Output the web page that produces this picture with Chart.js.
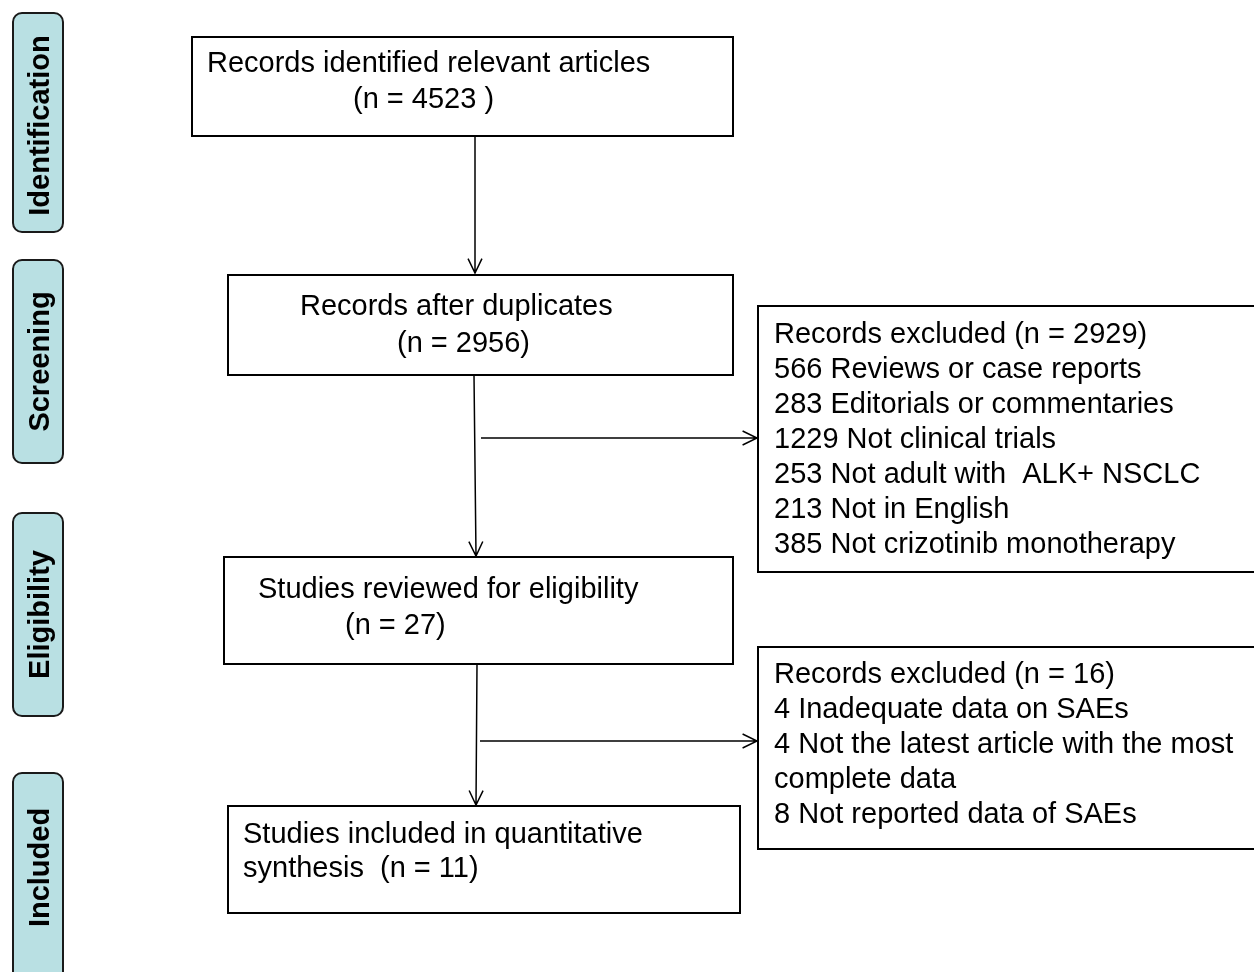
<!DOCTYPE html>
<html>
<head>
<meta charset="utf-8">
<title>PRISMA flow</title>
<script src="https://cdn.jsdelivr.net/npm/chart.js@4.4.1/dist/chart.umd.min.js"></script>
<style>
  html, body { margin: 0; padding: 0; background: #fff; }
  canvas { display: block; }
</style>
</head>
<body>
<canvas id="flow" width="1254" height="972"></canvas>
<script>
// Flow data
var stages = ['Identification', 'Screening', 'Eligibility', 'Included'];
var mainSteps = ['Records identified relevant articles', 'Records after duplicates', 'Studies reviewed for eligibility', 'Studies included in quantitative'];
var mainCounts = [4523, 2956, 27, 11];
var screenTotal = 2929;
var screenCounts = [566, 283, 1229, 253, 213, 385];
var screenReasons = ['Reviews or case reports', 'Editorials or commentaries', 'Not clinical trials', 'Not adult with  ALK+ NSCLC', 'Not in English', 'Not crizotinib monotherapy'];
var eligTotal = 16;
var eligCounts = [4, 4, 8];
var eligReasons = ['Inadequate data on SAEs', 'Not the latest article with the most', 'Not reported data of SAEs'];

// text lines per box
var box1Lines = [mainSteps[0], '(n = ' + mainCounts[0] + ' )'];
var box2Lines = [mainSteps[1], '(n = ' + mainCounts[1] + ')'];
var box3Lines = [mainSteps[2], '(n = ' + mainCounts[2] + ')'];
var box4Lines = [mainSteps[3], 'synthesis  (n = ' + mainCounts[3] + ')'];
var excl1Lines = ['Records excluded (n = ' + screenTotal + ')'];
screenCounts.forEach(function (c, i) { excl1Lines.push(c + ' ' + screenReasons[i]); });
var excl2Lines = ['Records excluded (n = ' + eligTotal + ')',
  eligCounts[0] + ' ' + eligReasons[0],
  eligCounts[1] + ' ' + eligReasons[1],
  'complete data',
  eligCounts[2] + ' ' + eligReasons[2]];

// layout (in scale units = page pixels)
var stageBoxes = [[13, 13, 63, 232], [13, 260, 63, 463], [13, 513, 63, 716], [13, 773, 63, 985]];
var stageShift = [3, 0, 0, -5];
var boxes = [
  { r: [192, 37, 733, 136], lines: box1Lines, tx: [207, 353], ty: [72, 108] },
  { r: [228, 275, 733, 375], lines: box2Lines, tx: [300, 397], ty: [315, 352] },
  { r: [224, 557, 733, 664], lines: box3Lines, tx: [258, 345], ty: [598, 634] },
  { r: [228, 806, 740, 913], lines: box4Lines, tx: [243, 243], ty: [843, 877] },
  { r: [758, 306, 1270, 572], lines: excl1Lines, tx: [774], ty: [343], step: 35 },
  { r: [758, 647, 1270, 849], lines: excl2Lines, tx: [774], ty: [683], step: 35 }
];
var arrows = [
  [475, 136, 475, 273], [474, 375, 476, 556], [477, 664, 476, 805],
  [481, 438, 757, 438], [480, 741, 757, 741]
];

var FONT = '"Liberation Sans", Arial, sans-serif';

var flowPlugin = {
  id: 'flow',
  afterDraw: function (chart) {
    var ctx = chart.ctx;
    var xs = chart.scales.x, ys = chart.scales.y;
    var px = function (v) { return xs.getPixelForValue(v); };
    var py = function (v) { return ys.getPixelForValue(v); };
    ctx.save();

    // stage labels
    stageBoxes.forEach(function (b, i) {
      var x0 = px(b[0]), y0 = py(b[1]), x1 = px(b[2]), y1 = py(b[3]);
      ctx.beginPath();
      ctx.roundRect(x0, y0, x1 - x0, y1 - y0, 9);
      ctx.fillStyle = '#b9e0e3';
      ctx.fill();
      ctx.lineWidth = 2;
      ctx.strokeStyle = '#1a1a1a';
      ctx.stroke();
      ctx.save();
      ctx.translate((x0 + x1) / 2 + 2, (y0 + Math.min(y1, py(972))) / 2 + stageShift[i]);
      ctx.rotate(-Math.PI / 2);
      ctx.fillStyle = '#000';
      ctx.font = 'bold 29px ' + FONT;
      ctx.textAlign = 'center';
      ctx.textBaseline = 'middle';
      ctx.fillText(stages[i], 0, 1);
      ctx.restore();
    });

    // boxes
    ctx.font = '29px ' + FONT;
    ctx.textAlign = 'left';
    ctx.textBaseline = 'alphabetic';
    boxes.forEach(function (b) {
      var x0 = px(b.r[0]), y0 = py(b.r[1]), x1 = px(b.r[2]), y1 = py(b.r[3]);
      ctx.fillStyle = '#fff';
      ctx.fillRect(x0, y0, x1 - x0, y1 - y0);
      ctx.lineWidth = 2;
      ctx.strokeStyle = '#000';
      ctx.strokeRect(x0, y0, x1 - x0, y1 - y0);
      ctx.fillStyle = '#000';
      b.lines.forEach(function (t, j) {
        var tx = b.step ? b.tx[0] : b.tx[j];
        var ty = b.step ? b.ty[0] + j * b.step : b.ty[j];
        ctx.fillText(t, px(tx), py(ty));
      });
    });

    // arrows
    ctx.strokeStyle = '#000';
    ctx.lineWidth = 1.5;
    arrows.forEach(function (a) {
      var x0 = px(a[0]), y0 = py(a[1]), x1 = px(a[2]), y1 = py(a[3]);
      var ang = Math.atan2(y1 - y0, x1 - x0);
      ctx.beginPath();
      ctx.moveTo(x0, y0);
      ctx.lineTo(x1, y1);
      ctx.moveTo(x1 - 16 * Math.cos(ang - 0.45), y1 - 16 * Math.sin(ang - 0.45));
      ctx.lineTo(x1, y1);
      ctx.lineTo(x1 - 16 * Math.cos(ang + 0.45), y1 - 16 * Math.sin(ang + 0.45));
      ctx.stroke();
    });
    ctx.restore();
  }
};

var ctx = document.getElementById('flow').getContext('2d');
var chart = new Chart(ctx, {
  type: 'scatter',
  data: { datasets: [{ data: [], pointRadius: 0 }] },
  options: {
    responsive: false,
    animation: false,
    devicePixelRatio: 1,
    layout: { padding: 0 },
    plugins: { legend: { display: false }, tooltip: { enabled: false } },
    scales: {
      x: { type: 'linear', min: 0, max: 1254, display: false },
      y: { type: 'linear', min: 0, max: 972, reverse: true, display: false }
    }
  },
  plugins: [flowPlugin]
});
</script>
</body>
</html>
